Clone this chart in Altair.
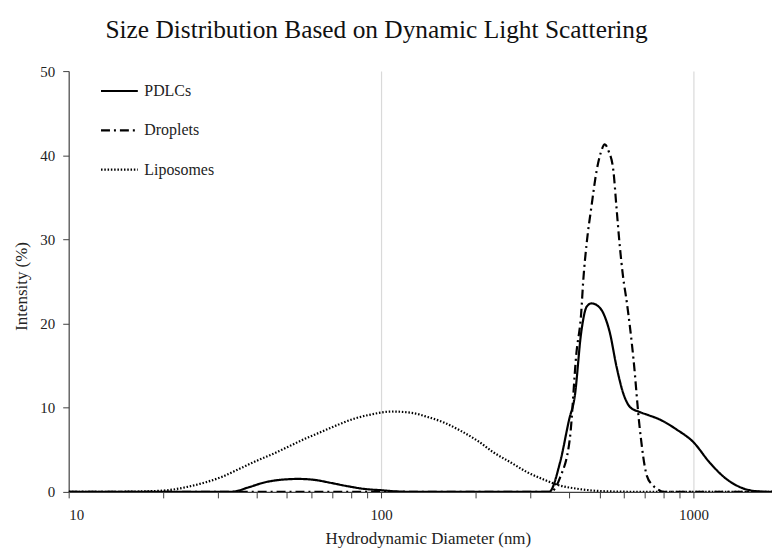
import altair as alt
import pandas as pd

series_names = ["PDLCs", "Droplets", "Liposomes"]

pdlc_x = [10, 30, 33.4, 37.7, 42.6, 48.1, 54.4, 61.4, 69.3, 78.3, 88.5, 100, 113, 130, 200, 300, 345,
          374, 400, 417, 437, 455, 471, 490, 515, 540, 567, 595, 626, 672, 720, 780, 880, 1000, 1126,
          1274, 1437, 1630, 1800]
pdlc_y = [0, 0, 0.02, 0.55, 1.15, 1.45, 1.54, 1.42, 1.06, 0.67, 0.35, 0.2, 0.05, 0, 0, 0, 0,
          3.5, 8.6, 11.4, 18.9, 22.0, 22.4, 22.2, 21.2, 18.9, 14.9, 11.8, 10.1, 9.5, 9.1, 8.6, 7.45, 5.9, 3.5,
          1.54, 0.44, 0.05, 0]

drop_x = [10, 300, 348, 374, 402, 422, 437, 444, 455, 471, 490, 505, 520, 535, 554, 567, 580, 595,
          612, 643, 672, 709, 740, 766, 800, 1800]
drop_y = [0, 0, 0, 1.7, 6.3, 16.5, 21.2, 25.2, 29.5, 33.8, 38.2, 40.3, 41.3, 40.5, 38.2, 33.8, 29.5, 25.6,
          22.5, 15.7, 7.8, 1.93, 0.8, 0.35, 0, 0]

lipo_x = [10, 15, 18, 20, 21.5, 24, 27.5, 31, 35, 40, 45, 50, 57, 65, 73, 82, 93, 108, 125, 141, 160,
          180, 205, 229, 260, 294, 330, 374, 420, 479, 550, 612, 700, 1000, 1800]
lipo_y = [0, 0.02, 0.08, 0.15, 0.27, 0.6, 1.15, 1.8, 2.7, 3.7, 4.5, 5.3, 6.3, 7.2, 8.0, 8.7, 9.2, 9.55, 9.4,
          8.9, 8.2, 7.25, 6.0, 4.7, 3.5, 2.33, 1.5, 0.75, 0.4, 0.15, 0.05, 0.02, 0, 0, 0]

x_ticks = [10, 20, 30, 40, 50, 60, 70, 80, 90, 100, 200, 300, 400, 500, 600, 700, 800, 900, 1000]
y_ticks = [0, 10, 20, 30, 40, 50]

rows = []
for name, xs, ys in [("PDLCs", pdlc_x, pdlc_y), ("Droplets", drop_x, drop_y), ("Liposomes", lipo_x, lipo_y)]:
    for i, (a, b) in enumerate(zip(xs, ys)):
        rows.append({"series": name, "d": a, "v": b, "i": i})
df = pd.DataFrame(rows)

FONT = "Liberation Serif"

chart = alt.Chart(df).mark_line(
    interpolate="monotone", strokeWidth=2.2, color="black", clip=True
).encode(
    x=alt.X("d:Q",
            scale=alt.Scale(type="log", domain=[10, 1784], nice=False),
            axis=alt.Axis(
                values=x_ticks,
                labelExpr="indexof([10,100,1000], datum.value) >= 0 ? '' + datum.value : ''",
                grid=True,
                gridColor="#d9d9d9",
                gridWidth=1.2,
                gridOpacity={"condition": {"test": "datum.value == 100 || datum.value == 1000", "value": 1}, "value": 0},
                tickSize=6, tickColor="#404040", domainColor="#404040", domainWidth=1.2,
                labelFont=FONT, labelFontSize=15, labelColor="#222", labelPadding=10,
                title="Hydrodynamic Diameter (nm)",
                titleFont=FONT, titleFontSize=17, titleFontWeight="normal", titleColor="#222",
                titleX=361, titleY=47, titleBaseline="middle", titleAlign="center",
            )),
    y=alt.Y("v:Q",
            scale=alt.Scale(domain=[0, 50], nice=False),
            axis=alt.Axis(
                values=y_ticks, grid=False,
                tickSize=6, tickColor="#404040", domainColor="#404040", domainWidth=1.2,
                labelFont=FONT, labelFontSize=15, labelColor="#222", labelPadding=8,
                title="Intensity (%)",
                titleFont=FONT, titleFontSize=17, titleFontWeight="normal", titleColor="#222",
                titleX=-47, titleY=216, titleBaseline="middle", titleAlign="center", titleAngle=270,
            )),
    strokeDash=alt.StrokeDash("series:N",
                              scale=alt.Scale(domain=series_names,
                                              range=[[1, 0], [9, 4, 2, 4], [1.5, 1.8]]),
                              legend=alt.Legend(
                                  title=None, orient="none", legendX=31, legendY=0,
                                  symbolType="stroke", symbolSize=1369, symbolStrokeWidth=2.2,
                                  symbolStrokeColor="black",
                                  labelFont=FONT, labelFontSize=16, labelColor="#222",
                                  labelOffset=5, rowPadding=11.5,
                              )),
    order="i:Q",
).properties(
    width=707,
    height=423,
    title=alt.TitleParams(
        "Size Distribution Based on Dynamic Light Scattering",
        font=FONT, fontSize=25.5, fontWeight="normal", color="#111",
        anchor="middle", dx=-44, offset=21,
    ),
    autosize=alt.AutoSizeParams(type="none"),
    padding={"left": 61, "top": 62, "right": 0, "bottom": 60},
).configure_view(stroke=None)

chart.save("out.html", embed_options={"renderer": "svg", "actions": False})
